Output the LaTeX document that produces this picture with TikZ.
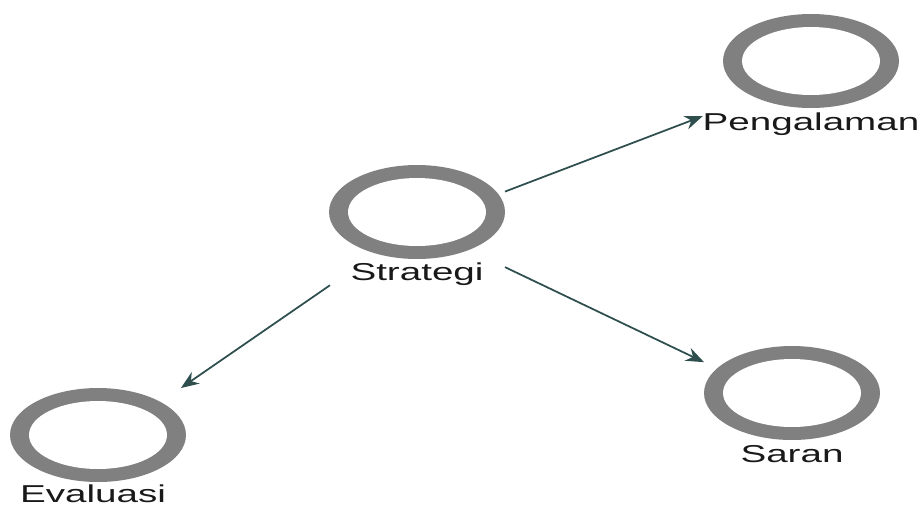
\documentclass[tikz,border=0pt]{standalone}
\usepackage{fontspec}
\newfontfamily\tagfont[FakeStretch=1.58]{Liberation Sans}
\usetikzlibrary{positioning,arrows.meta,shapes.geometric,fit}
\definecolor{ringgray}{RGB}{128,128,128}
\definecolor{linkgreen}{RGB}{47,79,79}
\tikzset{
  ring/.style={ellipse, fill=ringgray, minimum width=3.52cm, minimum height=1.88cm, inner sep=0pt, outer sep=0pt,
               path picture={\fill[white] (path picture bounding box.center) ellipse [x radius=1.38cm, y radius=0.68cm];}},
  tag/.style={font=\tagfont\fontsize{13.9}{16}\selectfont, text=black!90, inner sep=0pt, outer sep=0pt},
  grp/.style={inner sep=0pt, outer sep=0pt},
  fwd/.style={-{Stealth[length=0.36cm, width=0.28cm]}, draw=linkgreen, line width=1pt},
}

\begin{document}
\begin{tikzpicture}[x=0.02cm, y=-0.02cm]
\useasboundingbox (0,0) rectangle (923,505);
%Nodes
\node[ring] (strat) at (417,212) {};
\node[tag] (stratlbl) [below=0.07cm of strat] {Strategi};
\node[ring] (peng) at (811,61) {};
\node[tag] (penglbl) [below=0.1cm of peng] {Pengalaman};
\node[ring] (saran) at (792,393) {};
\node[tag] (saranlbl) [below=0.1cm of saran] {Saran};
\node[ring] (eval) at (98,435) {};
\node[tag] (evallbl) [below=0.05cm of eval, xshift=-0.1cm] {Evaluasi};

%Groups
\node[grp, fit=(strat) (stratlbl)] (stratgrp) {};
\node[grp, fit=(peng) (penglbl)] (penggrp) {};
\node[grp, fit=(saran) (saranlbl)] (sarangrp) {};
\node[grp, fit=(eval) (evallbl)] (evalgrp) {};

%Lines
\draw[fwd] (stratgrp) -- (penggrp);
\draw[fwd] (stratgrp) -- (sarangrp);
\draw[fwd] (stratgrp) -- (evalgrp);
\end{tikzpicture}
\end{document}
